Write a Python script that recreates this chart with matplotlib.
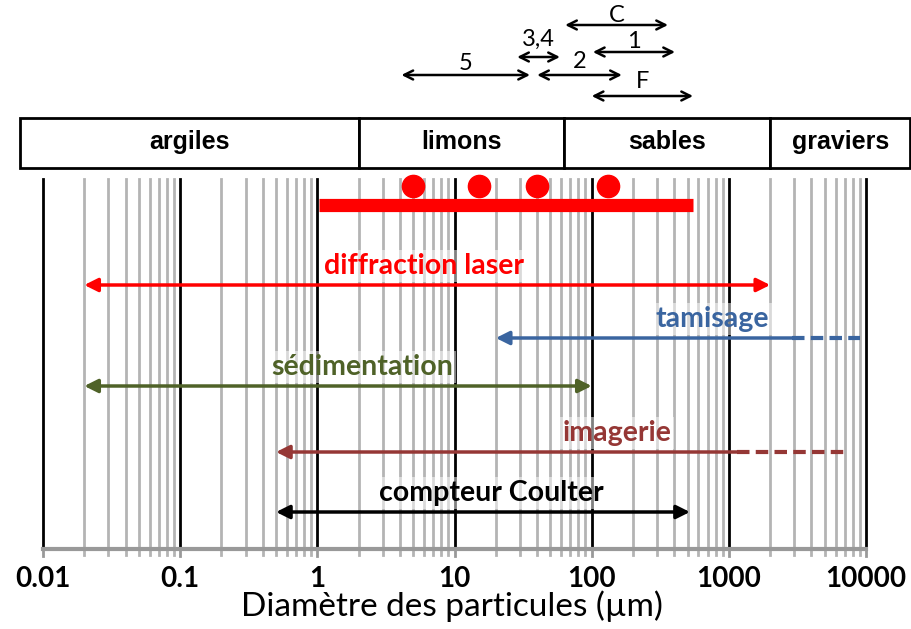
"""Domaines de mesure des méthodes de granulométrie"""

import numpy as np
import matplotlib.pyplot as plt

# classes granulométriques (bornes en µm)
class_names = ["argiles", "limons", "sables", "graviers"]
class_edges = [0.0068, 2, 63, 2000, 21000]

# méthodes : nom, début, fin du trait plein, fin du pointillé
method_names = ["diffraction laser", "tamisage", "sédimentation", "imagerie", "compteur Coulter"]
method_start = [0.02, 20, 0.02, 0.5, 0.5]
method_end = [2000, 2900, 100, 1150, 520]
method_dash_end = [None, 9000, None, 7300, None]
method_colors = ["#ff0000", "#3a65a0", "#4f6228", "#953735", "#000000"]

# échantillon : étendue et modes
sample_range = [1.03, 550]
sample_modes = [5, 15, 40, 131]

# gammes de référence en haut
ref_labels = ["C", "1", "3,4", "5", "2", "F"]
ref_start = [64, 102, 28.6, 4.1, 40, 100]
ref_end = [360, 405, 58.7, 35.5, 166, 548]

decades = [0.01, 0.1, 1, 10, 100, 1000, 10000]
decade_labels = ["0.01", "0.1", "1", "10", "100", "1000", "10000"]

fig = plt.figure(figsize=(9.12, 6.29), dpi=100)
ax = fig.add_axes([0, 0, 1, 1])
ax.set_xscale("log")
ax.set_xlim(10 ** -2.3135, 10 ** 4.335)
ax.set_ylim(629, 0)
ax.axis("off")

y_top, y_bot = 179, 549


def px_to_um(px):
    return 10 ** (-2 + (px - 43) / 137.17)


# grille
for d in decades[:-1]:
    for m in range(2, 10):
        ax.plot([d * m] * 2, [y_top, 555], color="#b4b4b4", lw=2, zorder=1)
for d in decades:
    ax.plot([d] * 2, [y_top, y_bot], color="black", lw=2, zorder=2)
    ax.plot([d] * 2, [y_bot, 556], color="#999999", lw=2, zorder=2)
ax.plot([0.01, 10000], [y_bot, y_bot], color="#999999", lw=3, zorder=2)
for d, lab in zip(decades, decade_labels):
    ax.text(d, 579, lab, ha="center", va="center", fontsize=20,
            fontweight="bold", family="Lato")
ax.text(px_to_um(452), 606, "Diamètre des particules (µm)", ha="center",
        va="center", fontsize=24, family="Lato")

# bandeau des classes
for i, name in enumerate(class_names):
    x0, x1 = class_edges[i], class_edges[i + 1]
    ax.fill([x0, x1, x1, x0], [118, 118, 168, 168], facecolor="white",
            edgecolor="black", lw=2, zorder=3)
    ax.text(np.sqrt(x0 * x1), 142, name, ha="center", va="center",
            fontsize=18, fontweight="bold", family="Liberation Sans", zorder=4)

# échantillon
ax.plot(sample_range, [205, 205], color="red", lw=9.5, solid_capstyle="butt", zorder=5)
ax.plot(sample_modes, [186] * 4, "o", color="red", ms=16, zorder=5)

# méthodes
ys = [285, 338, 386, 452, 512]
label_x = [424, 712, 362, 617, 491]

for name, s, e, de, c, y, lx in zip(method_names, method_start, method_end,
                                    method_dash_end, method_colors, ys, label_x):
    style = "<|-|>" if de is None else "-|>"
    ax.annotate("", xy=(s, y), xytext=(e, y), zorder=6,
                arrowprops=dict(arrowstyle=style, color=c, lw=2.5,
                                mutation_scale=20, shrinkA=0, shrinkB=0))
    if de is not None:
        ax.plot([e, de], [y, y], color=c, lw=3, ls=(0, (3, 1.5)), zorder=6)
    ax.text(px_to_um(lx), y - 19, name, ha="center", va="center", color=c,
            fontsize=20.5, fontweight="bold", family="Lato", zorder=7,
            bbox=dict(boxstyle="square,pad=0.1", fc="white", ec="none", alpha=0.5))

# gammes de référence
ref_y = [25, 52, 57, 75, 75, 96]
ref_label_dy = [-10, -10, -18, -12, -13, -14]
for lab, s, e, y, dy in zip(ref_labels, ref_start, ref_end, ref_y, ref_label_dy):
    ax.annotate("", xy=(s, y), xytext=(e, y), zorder=6,
                arrowprops=dict(arrowstyle="<->", color="black", lw=1.8,
                                mutation_scale=16, shrinkA=0, shrinkB=0))
    ax.text(np.sqrt(s * e), y + dy, lab, ha="center", va="center",
            fontsize=17, family="Lato")

plt.savefig("out.png", dpi=100)
